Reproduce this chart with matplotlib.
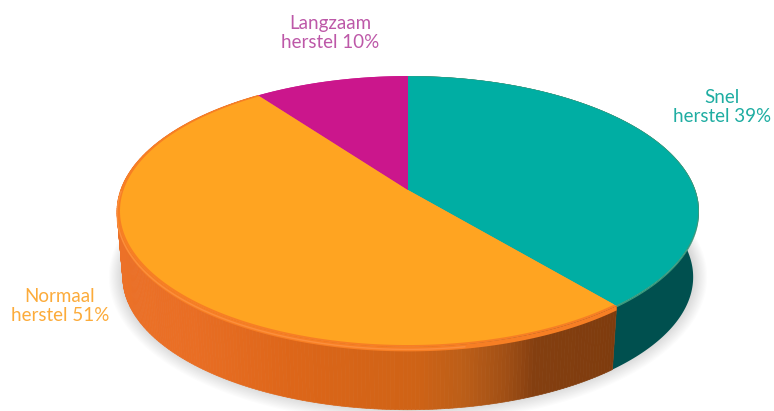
import numpy as np
from matplotlib import pyplot as plt
from matplotlib.colors import LinearSegmentedColormap

labels = ["Snel\nherstel 39%", "Normaal\nherstel 51%", "Langzaam\nherstel 10%"]
values = [39, 51, 10]

top_colors = ["#00aea3", "#ffa421", "#cb168c"]
rim_colors = ["#3a9d7f", "#f77f24", "#cb168c"]
rim_drop = [1.5, 4.5, 0]
inset = [0.997, 0.99, 1.0]
text_colors = ["#1fada2", "#fcab3a", "#bd58a8"]
label_pos = [(722, 107), (60, 306), (330, 33)]

# uitzicht van de taart (perspectief), alles in pixels
cx, cy = 408, 190
a, b, k = 287.3, 132.0, 0.1586
depth = 66
bottom_scale = 0.98

plt.rcParams['font.family'] = ['Lato', 'DejaVu Sans']

fig = plt.figure(figsize=(7.74, 4.11), dpi=100)
ax = fig.add_axes([0, 0, 1, 1])
ax.set_xlim(0, 774)
ax.set_ylim(411, 0)
ax.axis('off')


def project(theta, r=1.0, scale=1.0, dy=0.0):
    # theta in graden, met de klok mee vanaf boven
    t = np.radians(theta)
    u = r * np.sin(t)
    v = r * np.cos(t)
    w = 1 + k * v
    return cx + scale * a * u / w, cy + dy - scale * b * v / w


def wedge_shape(t1, t2, r=1.0):
    t = np.linspace(t1, t2, 200)
    x, y = project(t, r)
    return np.r_[cx, x, cx], np.r_[cy, y, cy]


# schaduw onder de taart
all_t = np.linspace(0, 360, 400)
for grow in np.linspace(14, 0, 14):
    sx, sy = project(all_t, 1.0, bottom_scale, depth - 2)
    sx = cx + (sx - cx) * (1 + grow / 285)
    sy = cy + depth - 2 + (sy - cy - depth + 2) * (1 + grow / 140)
    ax.fill(sx, sy, color="#000000", alpha=0.012, lw=0, zorder=1)

bounds = np.r_[0, np.cumsum(values)] * 3.6

# zijkant oranje loopt van donkerbruin (rechts) naar fel oranje (links)
side_cmap = LinearSegmentedColormap.from_list("side", [
    (0.00, "#7f3c0e"), (0.16, "#843f10"), (0.22, "#a14f15"), (0.30, "#bb5e18"),
    (0.40, "#cf6316"), (0.65, "#dd6619"), (0.85, "#e96e24"), (1.00, "#ec7128"),
])

# teal zijkant
t = np.linspace(bounds[0], bounds[1], 240)
x1, y1 = project(t)
x2, y2 = project(t, 1.0, bottom_scale, depth)
ax.fill(np.r_[x1, x2[::-1]], np.r_[y1, y2[::-1]], color="#00504f", lw=0, zorder=2)

# oranje zijkant in smalle stroken
t = np.linspace(bounds[1], bounds[2], 260)
for i in range(len(t) - 1):
    x1, y1 = project(t[i:i + 2])
    x2, y2 = project(t[i:i + 2], 1.0, bottom_scale, depth)
    frac = np.clip((613 - x2.mean()) / (613 - 120), 0, 1)
    c = side_cmap(frac)
    ax.fill(np.r_[x1, x2[::-1]], np.r_[y1, y2[::-1]], facecolor=c, edgecolor=c, lw=0.5, zorder=2)

# bovenkant met rand
for i in range(len(values)):
    t = np.linspace(bounds[i], bounds[i + 1], 200)
    x1, y1 = project(t)
    x2, y2 = project(t, 1.0, 1.0, rim_drop[i])
    ax.fill(np.r_[x1, x2[::-1]], np.r_[y1, y2[::-1]], color=rim_colors[i], lw=0, zorder=3)
    x, y = wedge_shape(bounds[i], bounds[i + 1])
    ax.fill(x, y, color=rim_colors[i], lw=0, zorder=3)
    x, y = wedge_shape(bounds[i], bounds[i + 1], inset[i])
    ax.fill(x, y, color=top_colors[i], lw=0, zorder=4)

# lichte streep op de oranje rand
t = np.linspace(bounds[1] + 30, bounds[1] + 130, 200)
x, y = project(t, 1.0, 1.0, 2.5)
ax.plot(x, y, color="#ff9a4d", lw=1.0, alpha=0.6, zorder=5)

for i in range(len(values)):
    ax.text(label_pos[i][0], label_pos[i][1], labels[i], color=text_colors[i], fontsize=13.5,
            ha='center', va='center', linespacing=1.15, zorder=6)

fig.savefig("out.png", dpi=100)
